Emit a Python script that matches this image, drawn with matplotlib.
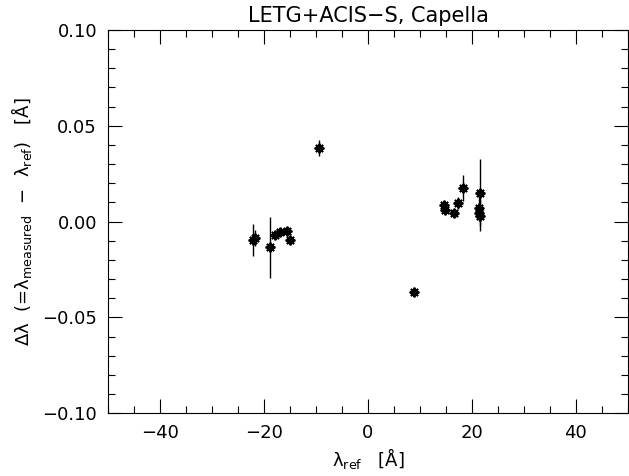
import matplotlib.pyplot as plt
from matplotlib.ticker import MultipleLocator

# wavelength of the reference line [A]
lam_ref = [-22.1, -21.8, -18.8, -17.9, -17.0, -15.5, -15.1, -9.4, 8.9,
           14.7, 14.9, 16.5, 17.3, 18.3, 21.3, 21.4, 21.5, 21.6]
# measured - reference [A]
d_lam = [-0.0095, -0.0085, -0.0134, -0.0071, -0.0056, -0.0050, -0.0094, 0.0384, -0.0368,
         0.0085, 0.0063, 0.0045, 0.0097, 0.0175, 0.0071, 0.0045, 0.0031, 0.0150]
d_err = [0.0083, 0.0040, 0.0160, 0.0020, 0.0015, 0.0015, 0.0015, 0.0040, 0.0020,
         0.0020, 0.0020, 0.0015, 0.0030, 0.0067, 0.0060, 0.0040, 0.0080, 0.0175]

plt.rcParams['font.family'] = ['DejaVu Sans']
fig = plt.figure(figsize=(6.29, 4.76), dpi=100)
ax = fig.add_axes([0.172, 0.132, 0.826, 0.805])

ax.errorbar(lam_ref, d_lam, yerr=d_err, fmt='none', ecolor='black', elinewidth=1, capsize=0)
ax.plot(lam_ref, d_lam, linestyle='none', marker=(8, 2, 0), markersize=7,
        markeredgewidth=1.4, color='black')

ax.set_xlim(-50, 50)
ax.set_ylim(-0.1, 0.1)
ax.xaxis.set_major_locator(MultipleLocator(20))
ax.xaxis.set_minor_locator(MultipleLocator(5))
ax.yaxis.set_major_locator(MultipleLocator(0.05))
ax.yaxis.set_minor_locator(MultipleLocator(0.01))
ax.yaxis.set_major_formatter(lambda v, p: f'{v:.2f}'.replace('-', '\u2212'))
ax.tick_params(which='both', direction='in', top=True, right=True, width=0.8,
               labelsize=13)
ax.tick_params(which='major', length=10, pad=8)
ax.tick_params(which='minor', length=5)
for s in ax.spines.values():
    s.set_linewidth(0.8)

ax.set_title('LETG+ACIS\u2212S, Capella', fontsize=15, pad=6)
ax.set_xlabel('λ$_{\\rm ref}$   [Å]', fontsize=13, labelpad=3)
ax.set_ylabel('Δλ  (=λ$_{\\rm measured}$  \u2212  λ$_{\\rm ref}$)   [Å]', fontsize=13, labelpad=6)

fig.savefig('out.png', dpi=100)
